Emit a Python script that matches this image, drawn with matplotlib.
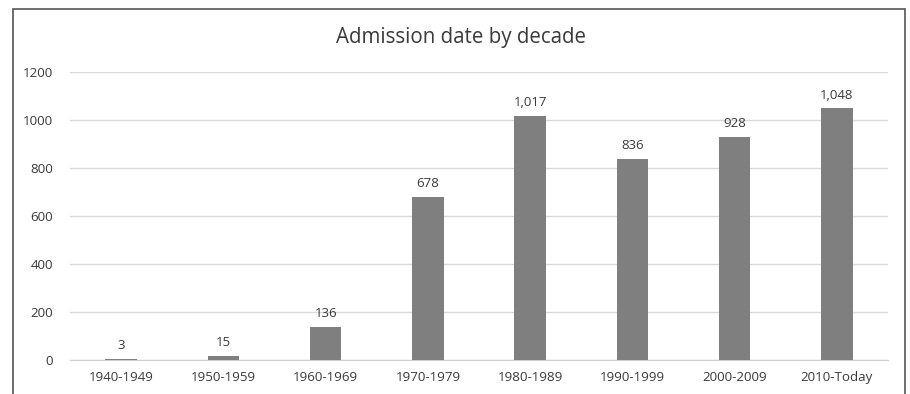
import matplotlib.pyplot as plt
from matplotlib.patches import Rectangle

decades = ["1940-1949", "1950-1959", "1960-1969", "1970-1979",
           "1980-1989", "1990-1999", "2000-2009", "2010-Today"]
counts = [3, 15, 136, 678, 1017, 836, 928, 1048]
yticks = [0, 200, 400, 600, 800, 1000, 1200]

plt.rcParams['font.family'] = ['Open Sans', 'DejaVu Sans']
txt = "#3a3a3a"

fig = plt.figure(figsize=(9.1, 3.94), dpi=100)
ax = fig.add_axes([70/910, 34/394, 818/910, 288/394])

x = range(len(decades))
bars = ax.bar(x, counts, width=0.31, color="#7f7f7f", zorder=3)
for b, v in zip(bars, counts):
    ax.annotate(f"{v:,}", (b.get_x() + b.get_width()/2, v),
                xytext=(0, 5), textcoords="offset points",
                ha="center", va="bottom", fontsize=9.5, color=txt)

ax.set_xlim(-0.5, len(decades) - 0.5)
ax.set_ylim(0, 1200)
ax.set_yticks(yticks)
ax.set_xticks(list(x))
ax.set_xticklabels(decades)
ax.tick_params(length=0, labelsize=9.6, labelcolor=txt)
ax.tick_params(axis="y", pad=12)
ax.tick_params(axis="x", pad=8)
ax.grid(axis="y", color="#d9d9d9", lw=1, zorder=0)
for s in ["top", "right", "left"]:
    ax.spines[s].set_visible(False)
ax.spines["bottom"].set_color("#d0d0d0")

fig.text(461/910, 1 - 37/394, "Admission date by decade",
         ha="center", va="center", fontsize=14.8, color=txt)

# outer chart frame, bottom edge runs off the page
fig.patches.append(Rectangle((13/910, -0.1), (905 - 13)/910, 1.1 - 9/394,
                             transform=fig.transFigure, fill=False,
                             edgecolor="#555555", lw=1.2))

fig.savefig("out.png", dpi=100)
